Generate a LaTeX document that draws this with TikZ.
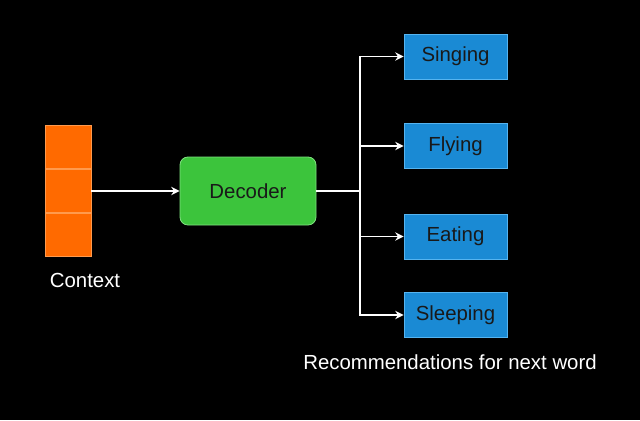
\documentclass[tikz,border=0pt]{standalone}
\usepackage{fontspec}
\setmainfont{Liberation Sans}
\usepackage{xcolor}
\usetikzlibrary{positioning,arrows.meta}
\definecolor{ctxorange}{HTML}{FF6A00}
\definecolor{ctxedge}{HTML}{FF9A4D}
\definecolor{decgreen}{HTML}{3CC43C}
\definecolor{decedge}{HTML}{7EE07E}
\definecolor{wordblue}{HTML}{1A8AD4}
\definecolor{wordedge}{HTML}{55B4F0}

\begin{document}
\begin{tikzpicture}[
    >={Stealth[length=6pt,width=6pt,inset=2pt]},
    every path/.style={white, line width=0.9pt},
    every node/.style={font=\fontsize{14.5}{17}\selectfont},
    cell/.style={rectangle, draw=ctxedge, fill=ctxorange, line width=0.6pt, minimum width=1.15cm, minimum height=1.075cm},
    decoder/.style={rectangle, rounded corners=0.2cm, draw=decedge, fill=decgreen, line width=0.6pt, minimum width=3.4cm, minimum height=1.7cm, text=black!90},
    word/.style={rectangle, draw=wordedge, fill=wordblue, line width=0.6pt, minimum width=2.575cm, minimum height=1.125cm, text=black!90}]
    \fill[black] (0,0) rectangle (16,10.5);
    \useasboundingbox (0,0) rectangle (16,10.5);
    % context stack
    \node[cell] (ctxB) at (1.7,5.725) {};
    \node[cell, above=0pt of ctxB] (ctxA) {};
    \node[cell, below=0pt of ctxB] (ctxC) {};
    \node[text=white] (ctxlabel) at (2.125,3.5) {Context};
    \node[decoder] (dec) at (6.2,5.725) {Decoder};
    % next word boxes
    \node[word] (sing) at (11.3875,9.0875) {Singing};
    \node[word] (fly) at (11.3875,6.85) {Flying};
    \node[word] (eat) at (11.3875,4.5875) {Eating};
    \node[word] (sleep) at (11.3875,2.625) {Sleeping};
    \node[text=white] (reclabel) at (11.25,1.45) {Recommendations for next word};
    \coordinate (split) at (9,5.725);
    \draw[->] (ctxB.east) -- (dec.west);
    \draw (dec.east) -- (split);
    \draw[->] (split) |- (sing.west);
    \draw[->] (split) |- (fly.west);
    \draw[->] (split) |- (eat.west);
    \draw[->] (split) |- (sleep.west);
\end{tikzpicture}
\end{document}
